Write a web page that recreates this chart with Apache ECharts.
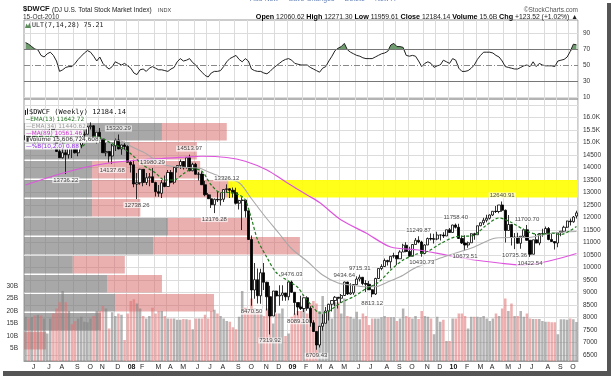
<!DOCTYPE html>
<html>
<head>
<meta charset="utf-8">
<script src="https://cdn.jsdelivr.net/npm/echarts@6/dist/echarts.min.js"></script>
<style>
html, body { margin: 0; padding: 0; background: #fff; }
#chart { width: 611px; height: 376px; }
</style>
</head>
<body>
<div id="chart"></div>
<script>
// weekly bars, first bar week ending 18-May-2007, last 15-Oct-2010
// rows are [open, high, low, close]
const candles2007 = [
  [15110,15280,15040,15280],[15280,15350,15060,15210],[15210,15460,15160,15420],[15420,15460,14960,15130],
  [15130,15440,14980,15390],[15390,15460,15060,15090],[15090,15200,14900,15090],[15090,15390,15060,15360],
  [15360,15610,15160,15580],[15580,15620,15360,15400],[15400,15440,14620,14640],[14640,14940,14390,14390],
  [14390,15090,14360,14590],[14590,14720,13736.22,14510],[14510,14870,14360,14850],[14850,14880,14380,14800],
  [14800,14870,14560,14590],[14590,14900,14450,14900],[14900,15360,14770,15310],[15310,15440,15200,15330],
  [15330,15670,15330,15630],[15630,15806,15520,15670],[15670,15690,15060,15070],[15070,15410,14960,15410],
  [15410,15580,14980,15150],[15150,15160,14590,14590],[14590,14980,14450,14640],[14640,14660,14200,14460],
  [14460,14940,14137.68,14870],[14870,15160,14660,15100],[15100,15320.29,14730,14740],[14740,14910,14510,14900],
  [14900,15030,14710,14840]
];
const candles2008 = [
  [14840,14890,14210,14210],[14210,14260,13800,14110],[14110,14310,13210,13340],[13340,13780,12738.26,13390],
  [13390,13950,13310,13930],[13930,13940,13250,13400],[13400,13780,13300,13590],[13590,13780,13250,13630],
  [13630,13980.29,13400,13400],[13400,13430,12840,13030],[13030,13300,12830,12970],[12970,13500,12780,13390],
  [13390,13680,13210,13240],[13240,13900,13240,13800],[13800,13900,13370,13410],[13410,14050,13330,14000],
  [14000,14090,13800,14080],[14080,14320,13940,14240],[14240,14260,13920,13990],[13990,14400,13960,14390],
  [14390,14513.97,13850,13870],[13870,14190,13850,14130],[14130,14190,13720,13730],[13730,13820,13480,13740],
  [13740,13840,13300,13310],[13310,13460,12850,12910],[12910,12980,12740,12750],[12750,12920,12380,12510],
  [12510,12760,12176.28,12730],[12730,13060,12620,12700],[12700,12990,12480,12730],[12730,13130,12620,13120],
  [13120,13326.12,12980,13150],[13150,13170,12780,13090],[13090,13200,12800,12990],[12990,13190,12520,12570],
  [12570,12710,12320,12680],[12680,12810,11500,12700],[12700,12700,12000,12270],[12270,12280,11110,11120],
  [11120,11280,8470.50,9100],[9100,10180,8750,9510],[9510,9960,8560,8870],[8870,9950,8550,9790],
  [9790,10180,9100,9410],[9410,9430,8280,8830],[8830,9270,7319.92,8060],[8060,9060,8060,9060],
  [9060,9070,8200,8860],[8860,9290,8470,8890],[8890,9290,8670,8980],[8980,8980,8670,8830]
];
const candles2009 = [
  [8830,9430,8690,9420],[9420,9476.03,8990,9010],[9010,9010,8110,8600],[8600,8600,8089.10,8420],
  [8420,8870,8300,8360],[8360,8800,8220,8790],[8790,8850,8270,8370],[8370,8450,7630,7790],
  [7790,7890,7430,7440],[7440,7440,6709.43,6900],[6900,7660,6800,7650],[7650,8130,7470,7770],
  [7770,8420,7770,8260],[8260,8550,7880,8530],[8530,8690,8240,8680],[8680,8860,8460,8810],
  [8810,8820,8360,8770],[8770,8940,8580,8880],[8880,9434.64,8860,9420],[9420,9430,8900,8940],
  [8940,9370,8910,8990],[8990,9330,8910,9320],[9320,9650,9320,9540],[9540,9715.31,9440,9610],
  [9610,9610,9290,9360],[9360,9490,9020,9330],[9330,9460,9100,9110],[9110,9130,8813.12,8940],
  [8940,9590,8900,9560],[9560,9960,9540,9960],[9960,10130,9890,10040],[10040,10360,10020,10280],
  [10280,10310,10080,10230],[10230,10460,9960,10450],[10450,10590,10370,10480],[10480,10480,10100,10350],
  [10350,10690,10350,10620],[10620,10950,10620,10890],[10890,11010,10610,10640],[10640,10830,10460,10450],
  [10450,10940,10450,10920],[10920,11180,10920,11090],[11090,11249.87,10970,11020],[11020,11070,10430.73,10560],
  [10560,10930,10530,10900],[10900,11200,10900,11160],[11160,11370,11080,11140],[11140,11350,10960,11140],
  [11140,11430,11090,11300],[11300,11310,11080,11300],[11300,11410,11180,11260],[11260,11510,11260,11510]
];
const candles2010 = [
  [11510,11580,11400,11400],[11400,11710,11400,11700],[11700,11758.40,11560,11610],[11610,11750,11140,11160],
  [11160,11280,10940,10980],[10980,11290,10673.51,10900],[10900,11040,10790,10990],[10990,11370,10990,11350],
  [11350,11390,11110,11310],[11310,11670,11310,11670],[11670,11800,11650,11790],[11790,11990,11700,11890],
  [11890,12110,11810,11970],[11970,12120,11920,12100],[12100,12260,12060,12250],[12250,12460,12180,12240],
  [12240,12500,12170,12500],[12500,12640.91,12230,12290],[12290,12320,11000,11480],[11480,12100,11480,11720],
  [11720,11720,10880,11200],[11200,11380,10735.36,11220],[11220,11390,10960,10970],[10970,11250,10750,11250],
  [11250,11560,11230,11510],[11510,11700.70,11070,11090],[11090,11090,10422.54,10530],[10530,11110,10530,11110],
  [11110,11340,10970,10980],[10980,11370,10890,11360],[11360,11550,11230,11360],[11360,11640,11340,11560],
  [11560,11620,11090,11120],[11120,11340,11020,11040],[11040,11040,10720,10980],[10980,11400,10810,11400],
  [11400,11460,11250,11450],[11450,11670,11420,11610],[11610,11870,11580,11860],[11860,11960,11680,11830],
  [11830,12060,11790,12020],[12060.62,12271.30,11959.61,12184.14]
];

// weekly volume, billions of shares
const volumes = [
  17.7,17,17.5,18.2,18.5,18.2,17,11,17,19,
  21,23.5,28,23.5,20,14.7,16,17,17.7,15.7,
  15.5,17,18,20,20,22,21,13,19.5,18,
  19,18.5,8.4,19,24,24.7,23,21,18,17,
  18,21.3,19,20,20,18,17,17,17,16.5,
  16.5,16.8,16.7,16.5,12.7,17,17,17,18.5,17,
  20,20.5,19,18,17,16,15.7,13.5,12.7,17.7,
  28,21.3,20,25,21,20,19,18,21,26,
  15,19,19,21,10,11,17.7,19,20,20,
  21,19,23,24,23,20,26,19,20,17,
  23.5,23.5,19,25,18,17.7,17,19.7,16.7,19,
  18,14.4,17,17,17,17.5,18,17.5,17.5,17.5,
  16,17,21,18,17.5,17,18,16.8,20,18,
  17.7,17,10.7,17.7,15.7,16.5,8,8,17,17,
  19,19,18,13,17.7,17.7,17.7,17.5,18,17,
  16,17,19,18,21,25,20,23,18,18,
  20,17.7,19,17,16.8,16.8,16.8,16,15.7,15.7,
  15.5,15.5,10.7,16.7,16.7,16.5,17,16.7,15.61
];

// ULT(7,14,28) weekly
const ultValues = [
  78,76,73,70,69,62,60,64,66,62,
  55,42,44,47,48,48,52,57,61,65,
  68,66,61,55,60,52,48,45,48,54,
  52,50,52,49,46,40,38,44,45,42,
  46,48,46,44,44,43,42,45,47,54,
  58,55,56,58,53,50,45,41,37,35,
  40,42,42,43,48,54,58,60,62,57,
  54,58,55,45,43,42,42,40,39,42,
  46,49,52,55,57,58,56,52,51,50,
  50,50,47,45,43,41,46,48,55,61,
  68,71,73,77,69,66,64,62,61,59,
  58,58,58,60,62,64,65,67,75,77,
  73,73,72,62,61,62,61,55,48,52,
  54,52,47,49,50,56,54,52,58,56,
  46,42,42,43,46,50,57,62,66,66,
  66,65,62,60,55,48,47,46,45,45,
  47,49,50,48,54,48,52,50,49,49,
  49,48,55,56,57,60,67,76,75.21
];
const ultOverbought = 70;

// moving averages: [week index, value]
const ema13Points = [[0,15150],[5,15250],[10,15200],[14,14850],[18,14850],[22,15250],[25,15150],[28,14950],
  [31,14800],[34,14550],[38,14100],[42,13780],[45,13500],[48,13500],[51,13750],[54,13950],[57,13850],
  [60,13300],[63,13000],[66,13000],[69,12900],[71,12700],[73,11950],[75,11100],[78,10400],[81,9800],
  [85,9450],[88,9200],[90,8850],[93,8400],[95,8180],[97,8200],[102,8600],[106,8830],[110,9150],
  [114,9400],[118,9900],[122,10300],[126,10520],[130,10650],[134,10950],[139,11230],[142,11250],
  [145,11300],[149,11700],[153,11980],[157,11800],[162,11450],[166,11320],[170,11380],[173,11320],
  [176,11480],[178,11642.72]];
const ema34Points = [[0,14800],[10,15050],[20,15000],[25,15150],[31,15050],[34,14850],[39,14550],
  [41,14380],[45,14100],[52,14000],[56,13980],[59,13830],[63,13630],[69,13390],[73,12750],[77,12100],
  [82,11350],[86,10750],[91,10250],[96,9700],[101,9380],[105,9300],[110,9230],[113,9230],[117,9420],
  [121,9630],[126,9990],[130,10180],[134,10380],[139,10583],[145,10820],[152,11180],[157,11200],
  [162,11200],[167,11300],[172,11400],[178,11440.62]];
const ma89Points = [[0,13300],[10,13700],[19,14000],[27,14180],[37,14300],[52,14420],[57,14450],
  [65,14400],[71,14250],[78,13900],[84,13430],[91,12900],[95,12600],[102,11900],[110,11380],
  [118,10820],[127,10700],[136,10500],[145,10300],[153,10180],[160,10100],[166,10180],[173,10380],
  [178,10561.46]];

// volume-by-price zones [low, high], up and down volume as % of panel width
const vbpZones = [[6690,7450],[7450,8210],[8210,8970],[8970,9730],[9730,10490],[10490,11250],
  [11250,12010],[12010,12770],[12770,13530],[13530,14290],[14290,15050],[15050,15810]];
const vbpUp = [0,13.9,16.4,15.0,8.8,23.3,26.0,12.3,12.3,12.3,19.1,24.9];
const vbpDown = [4.0,0,17.9,9.9,9.4,26.5,14.8,8.7,25.3,19.5,12.1,11.7];

// resistance zone
const bandStartWeek = '2008-08-22';
const bandLow = 12800;
const bandHigh = 13500;

// swing high / low annotations: [week index, value, side]
const swingLabels = [[30,15320.29,'top'],[13,13736.22,'bottom'],[28,14137.68,'bottom'],[36,12738.26,'bottom'],
  [41,13980.29,'top'],[53,14513.97,'top'],[65,13326.12,'top'],[61,12176.28,'bottom'],[73,8470.50,'bottom'],
  [79,7319.92,'bottom'],[86,9476.03,'top'],[88,8089.10,'bottom'],[94,6709.43,'bottom'],[103,9434.64,'top'],
  [108,9715.31,'top'],[112,8813.12,'bottom'],[127,11249.87,'top'],[128,10430.73,'bottom'],
  [139,11758.40,'top'],[142,10673.51,'bottom'],[154,12640.91,'top'],[162,11700.70,'top'],
  [158,10735.36,'bottom'],[163,10422.54,'bottom']];

const candles = candles2007.concat(candles2008, candles2009, candles2010);
const closes = candles.map(c => c[3]);

const weeks = [];
const firstWeek = Date.UTC(2007, 4, 18);
for (let i = 0; i < candles.length; i++) {
  weeks.push(new Date(firstWeek + i * 7 * 86400000).toISOString().slice(0, 10));
}

function isMonthStart(i) {
  if (i === 0) return false;
  return weeks[i].slice(5, 7) !== weeks[i - 1].slice(5, 7);
}
function monthLabel(i) {
  const m = +weeks[i].slice(5, 7);
  if (m === 1) return '{yr|' + weeks[i].slice(2, 4) + '}';
  return 'JFMAMJJASOND'[m - 1];
}

const narrow = "'Liberation Sans Narrow', 'Liberation Sans', Arial, sans-serif";
const gridColor = '#dcdcdc';
const vbpGray = 'rgba(115,115,115,0.62)';
const vbpRed = 'rgba(214,96,96,0.5)';
const volGray = 'rgba(130,130,130,0.6)';
const volRed = 'rgba(222,110,110,0.55)';

const volData = volumes.map((v, i) => ({
  value: v,
  itemStyle: { color: (i > 0 && closes[i] < closes[i - 1]) ? volRed : volGray }
}));

// split the oscillator at the overbought level so the part above it can be shaded
const ultBase = ultValues.map(v => Math.min(v, ultOverbought));
const ultAbove = ultValues.map(v => Math.max(v - ultOverbought, 0));

function monthSplit(show) {
  return { show: show, interval: (idx) => isMonthStart(idx), lineStyle: { color: gridColor, width: 1 } };
}

// legend lines sit on their own layer, above the candles
function legendText(top, text, color) {
  return { type: 'text', left: 25, top: top, zlevel: 1, z: 100, silent: true,
    style: { text: text, fontSize: 5.8, fill: color, fontFamily: 'DejaVu Sans',
      backgroundColor: 'rgba(255,255,255,0.92)', padding: [0, 1] } };
}

const chart = echarts.init(document.getElementById('chart'));

const option = {
  animation: false,
  backgroundColor: '#fff',
  grid: [
    { left: 24, right: 33, top: 20, height: 79, show: true, borderColor: '#9a9a9a', borderWidth: 1 },
    { left: 24, right: 33, top: 99, height: 262, show: true, borderColor: '#9a9a9a', borderWidth: 1 },
    { left: 24, right: 33, top: 105, height: 250, show: false }
  ],
  xAxis: [
    { type: 'category', gridIndex: 0, data: weeks, boundaryGap: true,
      axisLine: { show: false }, axisTick: { show: false }, axisLabel: { show: false },
      splitLine: monthSplit(true) },
    { type: 'category', gridIndex: 1, data: weeks, boundaryGap: true,
      axisLine: { show: true, lineStyle: { color: '#9a9a9a' } }, axisTick: { show: false },
      axisLabel: {
        interval: (idx) => isMonthStart(idx),
        formatter: (val, idx) => monthLabel(idx),
        align: 'left', margin: 3, fontSize: 7, color: '#222', fontFamily: narrow,
        rich: { yr: { fontSize: 7, fontWeight: 'bold', color: '#111', fontFamily: narrow } }
      },
      splitLine: monthSplit(true) },
    { type: 'category', gridIndex: 2, data: weeks, boundaryGap: true, show: false },
    { type: 'value', gridIndex: 2, min: 0, max: 100, show: false }
  ],
  yAxis: [
    { type: 'value', gridIndex: 0, position: 'right', min: 7.5, max: 106.25,
      axisLine: { show: false }, axisTick: { show: false }, splitLine: { show: false },
      axisLabel: { customValues: [10, 30, 50, 70, 90], fontSize: 6.5, color: '#333', margin: 5, fontFamily: narrow } },
    { type: 'value', gridIndex: 1, position: 'left', min: 0, max: 104.8, interval: 5,
      axisLine: { show: false }, axisTick: { show: false }, splitLine: { show: false },
      axisLabel: { formatter: v => (v > 0 && v <= 30) ? v + 'B' : '', fontSize: 6.5, color: '#333', margin: 6, fontFamily: narrow } },
    { type: 'value', gridIndex: 2, position: 'right', min: 6500, max: 16500, interval: 500,
      axisLine: { show: false }, axisTick: { show: false },
      splitLine: { show: true, lineStyle: { color: gridColor, width: 1 } },
      axisLabel: { showMaxLabel: false, fontSize: 6.5, color: '#333', margin: 5, fontFamily: narrow,
        formatter: v => v >= 15000 ? (v / 1000).toFixed(1) + 'K' : String(v) } }
  ],
  series: [
    // ULT overbought fill (stacked above the 70 level)
    { type: 'line', xAxisIndex: 0, yAxisIndex: 0, data: ultBase, stack: 'ult', symbol: 'none', silent: true,
      lineStyle: { width: 0, opacity: 0 }, z: 2 },
    { type: 'line', xAxisIndex: 0, yAxisIndex: 0, data: ultAbove, stack: 'ult', symbol: 'none', silent: true,
      lineStyle: { width: 0, opacity: 0 }, areaStyle: { color: '#6f9c6f', opacity: 1 }, z: 2 },
    // ULT line with reference levels
    { type: 'line', xAxisIndex: 0, yAxisIndex: 0, data: ultValues, symbol: 'none', silent: true,
      lineStyle: { color: '#222', width: 1 }, z: 3,
      markLine: { symbol: 'none', silent: true, label: { show: false }, animation: false,
        data: [
          { yAxis: 10, lineStyle: { color: gridColor, type: 'solid', width: 1 } },
          { yAxis: 90, lineStyle: { color: gridColor, type: 'solid', width: 1 } },
          { yAxis: 30, lineStyle: { color: '#777', type: 'solid', width: 1 } },
          { yAxis: 70, lineStyle: { color: '#777', type: 'solid', width: 1 } },
          { yAxis: 50, lineStyle: { color: '#888', type: [6, 2, 1, 2], width: 1 } }
        ] } },
    // volume by price
    { type: 'custom', xAxisIndex: 3, yAxisIndex: 2, silent: true, z: 1, clip: true,
      encode: { x: [2, 3], y: [0, 1] },
      data: vbpZones.map((z, i) => [z[0], z[1], vbpUp[i], vbpDown[i]]),
      renderItem: function (params, api) {
        const lo = api.value(0), hi = api.value(1), up = api.value(2), dn = api.value(3);
        const a = api.coord([0, hi]);
        const b = api.coord([up, lo]);
        const c = api.coord([up + dn, lo]);
        const top = a[1] + 0.8, h = b[1] - a[1] - 1.6;
        return { type: 'group', children: [
          { type: 'rect', shape: { x: a[0], y: top, width: b[0] - a[0], height: h }, style: { fill: vbpGray } },
          { type: 'rect', shape: { x: b[0], y: top, width: c[0] - b[0], height: h }, style: { fill: vbpRed } }
        ] };
      } },
    // volume bars
    { type: 'bar', xAxisIndex: 1, yAxisIndex: 1, data: volData, barCategoryGap: '18%', silent: true, z: 2 },
    // yellow resistance band
    { type: 'custom', xAxisIndex: 2, yAxisIndex: 2, silent: true, z: 3,
      encode: { x: 0, y: [1, 2] },
      data: [[weeks.indexOf(bandStartWeek), bandLow, bandHigh]],
      renderItem: function (params, api) {
        const p1 = api.coord([api.value(0), api.value(2)]);
        const p2 = api.coord([api.value(0), api.value(1)]);
        const bw = api.size([1, 0])[0];
        const cs = params.coordSys;
        const x0 = p1[0] - bw / 2;
        return { type: 'rect', shape: { x: x0, y: p1[1], width: cs.x + cs.width - x0, height: p2[1] - p1[1] },
          style: { fill: 'rgba(255,255,0,0.9)' } };
      } },
    // price candles
    { type: 'candlestick', xAxisIndex: 2, yAxisIndex: 2, silent: true, z: 5, barWidth: 2.7,
      data: candles.map(c => [c[0], c[3], c[2], c[1]]),
      itemStyle: { color: '#fff', color0: '#000', borderColor: '#000', borderColor0: '#000', borderWidth: 0.8 } },
    // moving averages
    { type: 'line', xAxisIndex: 2, yAxisIndex: 2, data: ma89Points, symbol: 'none', smooth: 0.3, silent: true, z: 6,
      lineStyle: { color: '#dd55dd', width: 1.2 } },
    { type: 'line', xAxisIndex: 2, yAxisIndex: 2, data: ema34Points, symbol: 'none', smooth: 0.3, silent: true, z: 6,
      lineStyle: { color: '#a8a8a8', width: 1.1 } },
    { type: 'line', xAxisIndex: 2, yAxisIndex: 2, data: ema13Points, symbol: 'none', smooth: 0.3, silent: true, z: 7,
      lineStyle: { color: '#1f7a1f', width: 1.2, type: [3, 2] } },
    // swing labels
    { type: 'scatter', xAxisIndex: 2, yAxisIndex: 2, silent: true, z: 8, symbolSize: 2,
      itemStyle: { color: 'rgba(0,0,0,0)' },
      data: swingLabels.map(s => ({
        value: [s[0], s[1]],
        label: { show: true, position: s[2], distance: 2, formatter: s[1].toFixed(2),
          fontSize: 6, color: '#111', fontFamily: narrow,
          backgroundColor: 'rgba(255,255,255,0.85)', padding: [0, 1] }
      })) }
  ],
  graphic: [
    { type: 'text', left: 250, top: -4, z: 100, style: { text: 'Add New  ·  Save Changes  ·  Delete  ·  New A', fontSize: 7, fill: '#6a86b8', fontFamily: narrow } },
    { type: 'text', left: 23, top: 5, z: 100, style: { text: '$DWCF', fontSize: 7.5, fontWeight: 'bold', fill: '#111', fontFamily: 'Liberation Sans, Arial' } },
    { type: 'text', left: 52, top: 6.5, z: 100, style: { text: '(DJ U.S. Total Stock Market Index)', fontSize: 6.5, fill: '#222', fontFamily: narrow } },
    { type: 'text', left: 158, top: 7.5, z: 100, style: { text: 'INDX', fontSize: 5.5, fill: '#444', fontFamily: narrow } },
    { type: 'text', left: 23, top: 14, z: 100, style: { text: '15-Oct-2010', fontSize: 6.5, fill: '#333', fontFamily: narrow } },
    { type: 'text', right: 33, top: 6.5, z: 100, style: { text: '©StockCharts.com', fontSize: 6.5, fill: '#555', fontFamily: narrow } },
    { type: 'text', right: 33, top: 13.5, z: 100, style: {
        text: '{b|Open} 12060.62 {b|High} 12271.30 {b|Low} 11959.61 {b|Close} 12184.14 {b|Volume} 15.6B {b|Chg} +123.52 (+1.02%) ▲',
        fontSize: 6.8, fill: '#222', fontFamily: narrow,
        rich: { b: { fontSize: 7.2, fontWeight: 'bold', fill: '#000', fontFamily: narrow } } } },
    // ULT title
    { type: 'polygon', zlevel: 1, z: 100, shape: { points: [[25, 28], [26.5, 23.5], [28, 26], [29.5, 22.5], [31, 28]] }, style: { fill: '#5d8c5d' } },
    { type: 'text', left: 32, top: 22, zlevel: 1, z: 100, style: { text: 'ULT(7,14,28) 75.21', fontSize: 6.6, fill: '#222', fontFamily: 'DejaVu Sans Mono' } },
    // main legend
    { type: 'rect', zlevel: 1, z: 100, shape: { x: 25, y: 110, width: 1, height: 5 }, style: { fill: '#222' } },
    { type: 'rect', zlevel: 1, z: 100, shape: { x: 27, y: 108.5, width: 1, height: 6 }, style: { fill: '#222' } },
    { type: 'text', left: 29, top: 108.5, zlevel: 1, z: 100, style: { text: '$DWCF (Weekly) 12184.14', fontSize: 7, fill: '#111', fontFamily: 'DejaVu Sans Mono',
        backgroundColor: 'rgba(255,255,255,0.9)' } },
    legendText(116.5, '--EMA(13) 11642.72', '#1f6e1f'),
    legendText(123.3, '—EMA(34) 11440.62', '#9a9a9a'),
    legendText(130, '—MA(89) 10561.46', '#cc33cc'),
    legendText(136.8, '▮Volume 15,606,724,608', '#333'),
    legendText(143.5, '—%B(10,2.0) 0.88', '#8a2be2'),
    // picture frame shadow
    { type: 'rect', zlevel: 1, z: 100, shape: { x: 607, y: 3, width: 4, height: 373 }, style: { fill: '#555' } },
    { type: 'rect', zlevel: 1, z: 100, shape: { x: 3, y: 371, width: 608, height: 5 }, style: { fill: '#555' } }
  ]
};

chart.setOption(option);
</script>
</body>
</html>
